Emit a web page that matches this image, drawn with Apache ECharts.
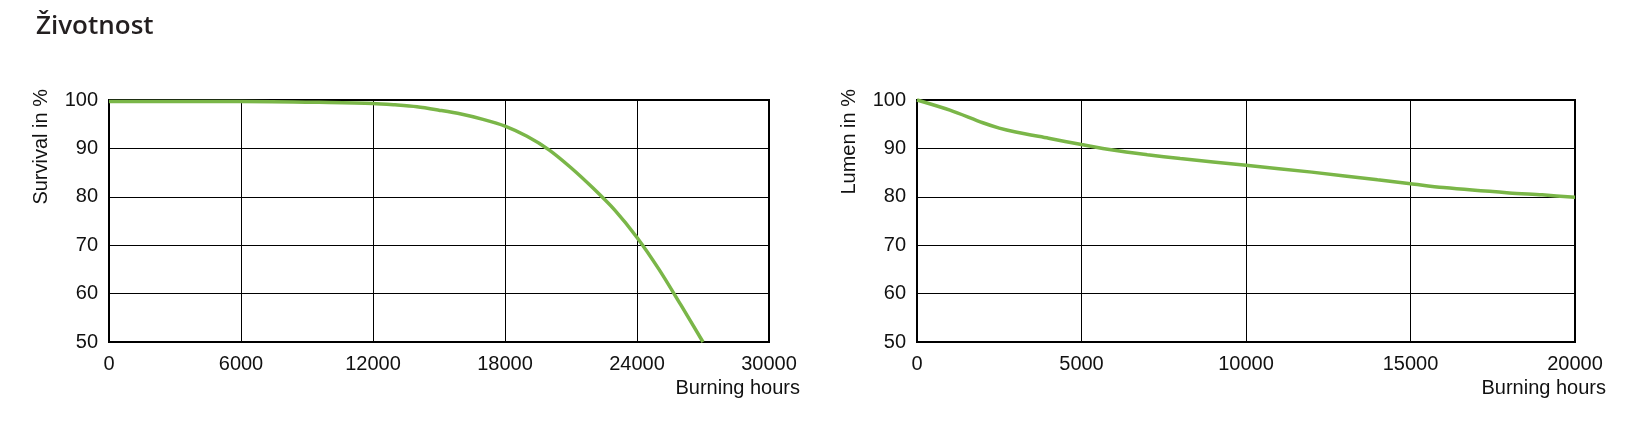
<!DOCTYPE html>
<html lang="cs" style="height: 100%">
<head>
  <meta charset="utf-8">
</head>
<body style="height: 100%; margin: 0; background: #fff">
  <div id="container" style="width: 1648px; height: 426px"></div>
  <script type="text/javascript" src="https://fastly.jsdelivr.net/npm/echarts@6/dist/echarts.min.js"></script>
  <script type="text/javascript">
    // survival curve (left)
    const survivalHours = [0, 6000, 10000, 12000, 13000, 14000, 15000, 16000, 17000, 18000, 19000, 20000, 21000, 22000, 23000, 24000, 25000, 26000, 27000];
    const survivalPct = [99.7, 99.7, 99.5, 99.3, 99.0, 98.6, 97.9, 97.1, 96.0, 94.6, 92.5, 89.7, 86.0, 81.8, 77.2, 71.6, 65.0, 57.6, 50];

    // lumen maintenance (right)
    const lumenHours = [0, 1000, 2000, 2500, 3000, 4000, 5000, 6000, 7000, 8000, 10000, 12000, 14000, 15000, 16000, 18000, 19000, 20000];
    const lumenPct = [100, 97.9, 95.3, 94.2, 93.4, 92.1, 90.8, 89.6, 88.7, 87.9, 86.5, 85.1, 83.5, 82.7, 81.9, 80.8, 80.4, 79.9];

    const titleText = 'Životnost';
    const yMin = 50, yMax = 100, yStep = 10;

    const green = '#7ab648';
    const font = 'Liberation Sans, Arial, sans-serif';

    function pairs(xs, ys) {
      return xs.map(function (x, i) { return [x, ys[i]]; });
    }

    function xAxisFor(idx, max, step) {
      return {
        type: 'value',
        gridIndex: idx,
        min: 0,
        max: max,
        interval: step,
        name: 'Burning hours',
        nameLocation: 'end',
        nameGap: 31,
        nameTextStyle: {
          fontFamily: font, fontSize: 20, color: '#111',
          align: 'right', verticalAlign: 'top', padding: [36, 0, 0, 0]
        },
        axisLine: { show: false },
        axisTick: { show: false },
        axisLabel: {
          fontFamily: font, fontSize: 20, color: '#111', margin: 12,
          formatter: function (v) { return String(v); }
        },
        splitLine: { show: true, lineStyle: { color: '#000', width: 1 } }
      };
    }

    function yAxisFor(idx, name) {
      return {
        type: 'value',
        gridIndex: idx,
        min: yMin,
        max: yMax,
        interval: yStep,
        name: name,
        nameLocation: 'end',
        nameRotate: 90,
        nameGap: 11,
        nameTextStyle: {
          fontFamily: font, fontSize: 20, color: '#111',
          align: 'right', verticalAlign: 'bottom', padding: [0, 0, 58, 0]
        },
        axisLine: { show: false },
        axisTick: { show: false },
        axisLabel: { fontFamily: font, fontSize: 20, color: '#111', margin: 11 },
        splitLine: { show: true, lineStyle: { color: '#000', width: 1 } }
      };
    }

    const chart = echarts.init(document.getElementById('container'), null, { renderer: 'canvas' });

    const option = {
      animation: false,
      backgroundColor: '#fff',
      title: {
        text: titleText,
        left: 31,
        top: 9,
        textStyle: { fontFamily: 'Open Sans, sans-serif', fontWeight: 600, fontSize: 26, color: '#231f20' }
      },
      grid: [
        { left: 109, right: 879, top: 100, bottom: 84, show: true, borderColor: '#000', borderWidth: 2, backgroundColor: 'transparent' },
        { left: 917, right: 73, top: 100, bottom: 84, show: true, borderColor: '#000', borderWidth: 2, backgroundColor: 'transparent' }
      ],
      xAxis: [xAxisFor(0, 30000, 6000), xAxisFor(1, 20000, 5000)],
      yAxis: [yAxisFor(0, 'Survival in %'), yAxisFor(1, 'Lumen in %')],
      series: [
        {
          type: 'line', xAxisIndex: 0, yAxisIndex: 0,
          data: pairs(survivalHours, survivalPct),
          smooth: 0.3, symbol: 'none', clip: false,
          lineStyle: { color: green, width: 3.5 }
        },
        {
          type: 'line', xAxisIndex: 1, yAxisIndex: 1,
          data: pairs(lumenHours, lumenPct),
          smooth: 0.3, symbol: 'none', clip: false,
          lineStyle: { color: green, width: 3.5 }
        }
      ]
    };

    chart.setOption(option);
    window.addEventListener('resize', chart.resize);
  </script>
</body>
</html>
